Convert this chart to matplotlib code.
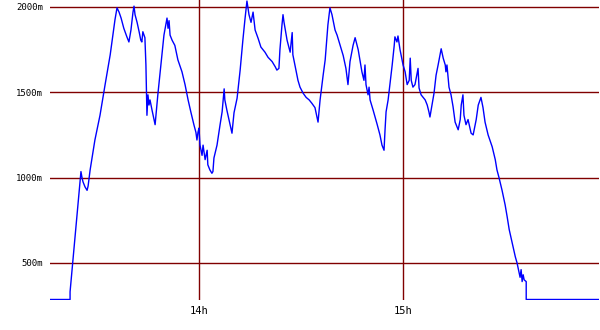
import matplotlib
matplotlib.use("Agg")
import matplotlib.pyplot as plt

# minutes after 13:00
t = [16.2, 22.1, 22.1, 25.3, 25.6, 25.9, 26.5, 27.1, 27.4, 28.0, 29.4, 30.9, 32.4, 33.9,
     35.3, 35.9, 36.5, 37.1, 37.9, 38.8, 39.4, 40.0, 40.6, 40.9, 41.2, 41.8, 42.4, 42.9,
     43.2, 43.5, 44.1, 44.4, 44.7, 45.0, 45.3, 45.6, 46.2, 47.1, 47.9, 48.8, 49.7, 50.6,
     50.9, 51.2, 51.5, 52.1, 52.9, 53.8, 55.0, 55.9, 56.8, 57.6, 58.5, 59.1, 59.4, 59.7,
     60.0, 60.3, 60.9, 61.2, 61.8, 62.4, 62.6, 63.2, 63.8, 64.1, 64.4, 65.3, 66.2, 66.8,
     67.4, 67.6, 68.2, 68.8, 69.7, 70.3, 71.2, 72.1, 72.9, 73.5, 74.1, 74.7, 75.3, 75.9,
     76.5, 77.4, 78.2, 79.4, 80.3, 81.5, 82.4, 82.9, 83.5, 83.8, 84.4, 84.7, 85.0, 85.9,
     86.8, 87.4, 87.6, 88.5, 89.1, 89.7, 90.6, 91.5, 92.4, 93.2, 94.1, 95.0, 95.6, 96.5,
     97.1, 97.9, 98.5, 99.1, 100.0, 100.6, 101.5, 102.4, 103.2, 103.8, 104.4, 105.3, 105.9,
     106.8, 107.4, 107.9, 108.5, 108.8, 109.1, 109.7, 110.0, 110.3, 111.2, 112.4, 113.2,
     113.8, 114.4, 114.7, 115.0, 115.6, 116.8, 117.4, 117.6, 118.2, 118.5, 119.1, 119.7,
     120.0, 120.6, 121.2, 121.8, 122.1, 122.4, 122.9, 123.5, 124.4, 124.7, 125.3, 126.5,
     127.1, 127.6, 127.9, 128.5, 129.1, 129.7, 130.3, 131.2, 131.8, 132.4, 132.6, 132.9,
     133.5, 134.1, 134.7, 135.3, 136.2, 136.8, 137.1, 137.6, 137.9, 138.5, 139.1, 140.0,
     140.6, 141.5, 142.1, 142.9, 143.5, 144.1, 145.0, 146.2, 147.1, 147.6, 148.2, 149.1,
     150.0, 150.6, 151.2, 152.1, 153.0, 153.5, 154.4, 154.7, 155.0, 155.3, 155.6, 156.2,
     156.2, 177.4]
val = [285, 285, 330, 1035, 1000, 975, 945, 925, 950, 1045, 1220, 1365, 1545, 1720,
       1925, 1995, 1970, 1935, 1875, 1825, 1795, 1865, 1970, 2005, 1955, 1910, 1855, 1805,
       1795, 1855, 1820, 1660, 1365, 1485, 1425, 1455, 1395, 1310, 1485, 1660, 1835, 1935,
       1875, 1920, 1835, 1805, 1775, 1690, 1620, 1545, 1455, 1385, 1310, 1265, 1220, 1265,
       1290, 1190, 1130, 1190, 1105, 1160, 1075, 1045, 1025, 1035, 1115, 1190, 1310, 1385,
       1520, 1455, 1395, 1340, 1260, 1380, 1465, 1630, 1805, 1925, 2035, 1955, 1910, 1970,
       1865, 1815, 1765, 1735, 1705, 1680, 1650, 1630, 1640, 1750, 1895, 1955, 1910, 1805,
       1735, 1850, 1720, 1630, 1570, 1530, 1495, 1470, 1455, 1435, 1410, 1325, 1455, 1600,
       1690, 1895, 1995, 1955, 1865, 1835, 1775, 1715, 1640, 1545, 1680, 1775, 1820,
       1750, 1680, 1620, 1570, 1660, 1545, 1485, 1530, 1455, 1395, 1310, 1250,
       1190, 1160, 1280, 1385, 1455, 1660, 1775, 1825, 1795, 1830, 1750, 1690,
       1660, 1620, 1545, 1570, 1700, 1570, 1530, 1545, 1640, 1525, 1485, 1455,
       1425, 1385, 1355, 1425, 1495, 1600, 1660, 1755, 1700, 1660, 1620, 1660,
       1530, 1485, 1415, 1325, 1280, 1340, 1425, 1485, 1365, 1310, 1340, 1260,
       1250, 1340, 1425, 1470, 1410, 1325, 1250, 1180, 1105, 1045, 1000, 925,
       840, 770, 695, 615, 535, 500, 415, 460, 390, 430, 400, 390,
       285, 285]

hour_ticks = [60, 120]
hour_labels = ["14h", "15h"]
y_ticks = [500, 1000, 1500, 2000]
y_labels = ["500m", "1000m", "1500m", "2000m"]

fig = plt.figure(figsize=(6, 3.3), dpi=100)
ax = fig.add_axes([50 / 600, 30 / 330, 549 / 600, 300 / 330])

# grid lines, all the same dark red
for yv in y_ticks:
    ax.axhline(yv, color="#800000", lw=1, zorder=1)
for xv in hour_ticks:
    ax.axvline(xv, color="#800000", lw=1, zorder=1)

ax.plot(t, val, color="#0000ff", lw=1, zorder=2)

ax.set_xlim(16.2, 177.6)
ax.set_ylim(282, 2041)
ax.set_xticks(hour_ticks)
ax.set_xticklabels(hour_labels, fontsize=7.5, family="DejaVu Sans Mono")
ax.set_yticks(y_ticks)
ax.set_yticklabels(y_labels, fontsize=6.5, family="DejaVu Sans Mono")
ax.tick_params(length=0)
ax.tick_params(axis="x", pad=4)
ax.tick_params(axis="y", pad=5)
for s in ax.spines.values():
    s.set_visible(False)

fig.savefig("out.png", dpi=100)
